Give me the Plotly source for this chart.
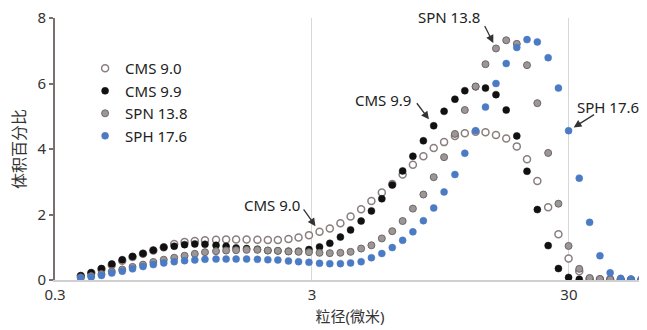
import plotly.graph_objects as go
import math

# particle size (µm), log-spaced bins
size_um = [0.378, 0.415, 0.455, 0.499, 0.548, 0.601, 0.660, 0.724, 0.795, 0.873,
           0.958, 1.05, 1.15, 1.27, 1.39, 1.52, 1.67, 1.84, 2.02, 2.21,
           2.43, 2.66, 2.92, 3.21, 3.52, 3.87, 4.24, 4.66, 5.11, 5.61,
           6.16, 6.76, 7.41, 8.14, 8.93, 9.80, 10.8, 11.8, 13.0, 14.2,
           15.6, 17.1, 18.8, 20.6, 22.6, 24.9, 27.3, 29.9, 32.9, 36.1,
           39.6, 43.4, 47.7, 52.3, 57.4]

cms_90 = [0.12, 0.21, 0.33, 0.46, 0.59, 0.70, 0.80, 0.90, 1.00, 1.10,
          1.16, 1.19, 1.21, 1.23, 1.24, 1.24, 1.24, 1.23, 1.22, 1.22,
          1.25, 1.30, 1.37, 1.47, 1.57, 1.73, 1.94, 2.16, 2.41, 2.67,
          2.93, 3.22, 3.52, 3.78, 4.03, 4.21, 4.40, 4.48, 4.53, 4.51,
          4.43, 4.32, 4.08, 3.69, 3.02, 2.22, 1.40, 0.66, 0.27, 0.04,
          0.02, 0.02, 0.01, 0.01, 0.01]

cms_99 = [0.13, 0.22, 0.35, 0.49, 0.62, 0.72, 0.81, 0.91, 1.00, 1.03,
          1.08, 1.10, 1.09, 1.06, 1.03, 0.98, 0.96, 0.94, 0.90, 0.89,
          0.88, 0.88, 0.93, 1.01, 1.12, 1.31, 1.53, 1.80, 2.11, 2.48,
          2.90, 3.33, 3.78, 4.25, 4.71, 5.15, 5.52, 5.78, 5.90, 5.86,
          5.66, 5.19, 4.40, 3.32, 2.15, 1.05, 0.35, 0.08, 0.02, 0.0,
          0.0, 0.0, 0.0, 0.0, 0.0]

spn_138 = [0.08, 0.12, 0.18, 0.26, 0.32, 0.40, 0.47, 0.55, 0.62, 0.68,
           0.74, 0.80, 0.85, 0.88, 0.90, 0.91, 0.92, 0.92, 0.90, 0.89,
           0.87, 0.86, 0.85, 0.83, 0.82, 0.83, 0.86, 0.96, 1.06, 1.27,
           1.49, 1.80, 2.18, 2.61, 3.14, 3.75, 4.46, 5.19, 5.91, 6.59,
           7.07, 7.32, 7.21, 6.56, 5.40, 3.88, 2.33, 1.04, 0.34, 0.06,
           0.03, 0.02, 0.01, 0.01, 0.01]

sph_176 = [0.06, 0.09, 0.14, 0.21, 0.27, 0.34, 0.41, 0.47, 0.52, 0.56,
           0.59, 0.61, 0.63, 0.64, 0.64, 0.64, 0.64, 0.63, 0.62, 0.61,
           0.58, 0.56, 0.54, 0.51, 0.50, 0.50, 0.52, 0.56, 0.68, 0.81,
           0.99, 1.21, 1.47, 1.81, 2.20, 2.69, 3.22, 3.87, 4.56, 5.28,
           6.00, 6.61, 7.10, 7.34, 7.27, 6.79, 5.86, 4.56, 3.11, 1.76,
           0.74, 0.22, 0.05, 0.03, 0.03]

series_names = ["CMS 9.0", "CMS 9.9", "SPN 13.8", "SPH 17.6"]
x_ticks = [0.3, 3, 30]
x_tick_text = ["0.3", "3", "30"]
y_ticks = [0, 2, 4, 6, 8]

FONT = "Noto Sans, Noto Sans CJK SC, sans-serif"

fig = go.Figure()
styles = [
    dict(color="white", size=7, line=dict(color="#8a7e7e", width=1.5)),
    dict(color="#111111", size=7, line=dict(color="#111111", width=0.5)),
    dict(color="#9c9696", size=7, line=dict(color="#6f6767", width=1)),
    dict(color="#4a7bc4", size=7, line=dict(color="#4a7bc4", width=0.5)),
]
for name, ys, st in zip(series_names, [cms_90, cms_99, spn_138, sph_176], styles):
    fig.add_trace(go.Scatter(x=size_um, y=ys, mode="markers", name=name, marker=st))

# annotations: (series values, index, text, text shift, arrow tail offset, standoff)
ann_specs = [
    (cms_90, 23, "CMS 9.0", (-48, 27), (-17, -24), 7),
    (cms_99, 34, "CMS 9.9", (-51, 26), (-18, -24), 8),
    (spn_138, 40, "SPN 13.8", (-47, 31), (-12, -24), 6),
    (sph_176, 47, "SPH 17.6", (39, 24), (27, -17), 6),
]
for ys, idx, txt, (sx, sy), (ax, ay), so in ann_specs:
    xv = math.log10(size_um[idx])
    fig.add_annotation(x=xv, y=ys[idx], text=txt, showarrow=False,
                       xshift=sx, yshift=sy,
                       font=dict(family=FONT, size=15, color="#222222"))
    fig.add_annotation(x=xv, y=ys[idx], text="", showarrow=True,
                       ax=ax, ay=ay, arrowhead=2, arrowsize=1.2, arrowwidth=1.3,
                       arrowcolor="#333333", standoff=so)

# page body has an 8px margin, so the figure is sized to fit the rest of the window
fig.update_layout(
    width=639, height=322,
    margin=dict(l=47, r=2, t=10, b=50, autoexpand=False),
    paper_bgcolor="white", plot_bgcolor="white",
    font=dict(family=FONT, size=15, color="#333333"),
    showlegend=True,
    legend=dict(x=0.051, y=0.87, xanchor="left", yanchor="top",
                bgcolor="rgba(0,0,0,0)", font=dict(size=15, color="#222222"),
                tracegroupgap=0, itemwidth=30),
)
fig.update_xaxes(type="log", range=[math.log10(0.3), math.log10(59.3)],
                 tickvals=x_ticks, ticktext=x_tick_text, automargin=False,
                 showgrid=True, gridcolor="#d8d8d8", gridwidth=1,
                 showline=True, linecolor="#d0d0d0", linewidth=2,
                 zeroline=False, ticks="", ticklabeloverflow="allow",
                 title=dict(text="粒径(微米)", font=dict(size=15, color="#333333"), standoff=8))
fig.update_yaxes(range=[0, 8], tickvals=y_ticks, showgrid=False, zeroline=False,
                 automargin=False, ticklabeloverflow="allow",
                 showline=True, linecolor="#7a6e6e", linewidth=2,
                 ticks="outside", ticklen=4, tickcolor="#7a6e6e", tickwidth=1.5,
                 title=dict(text="体积百分比", font=dict(size=16, color="#333333"), standoff=20))

fig.write_html("out.html")
